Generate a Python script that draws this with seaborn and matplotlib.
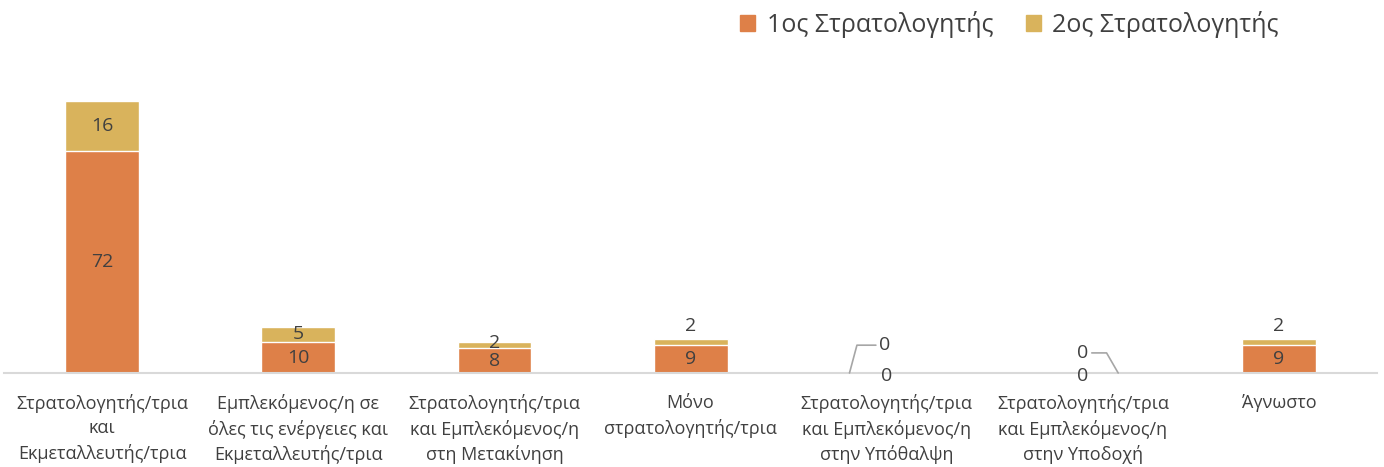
import pandas as pd
import seaborn as sns
import numpy as np
import matplotlib.pyplot as plt
from matplotlib.patches import Patch

categories = [
    'Στρατολογητής/τρια\nκαι\nΕκμεταλλευτής/τρια',
    'Εμπλεκόμενος/η σε\nόλες τις ενέργειες και\nΕκμεταλλευτής/τρια',
    'Στρατολογητής/τρια\nκαι Εμπλεκόμενος/η\nστη Μετακίνηση',
    'Μόνο\nστρατολογητής/τρια',
    'Στρατολογητής/τρια\nκαι Εμπλεκόμενος/η\nστην Υπόθαλψη',
    'Στρατολογητής/τρια\nκαι Εμπλεκόμενος/η\nστην Υποδοχή',
    'Άγνωστο',
]
first = [72, 10, 8, 9, 0, 0, 9]
second = [16, 5, 2, 2, 0, 0, 2]
series_names = ['1ος Στρατολογητής', '2ος Στρατολογητής']

c1 = '#DE8048'
c2 = '#D9B35C'
txt = '#404040'

sns.set_style('white')
plt.rcParams['font.family'] = ['Open Sans', 'DejaVu Sans']

df = pd.DataFrame({'cat': categories, 'first': first, 'second': second})
df['total'] = df['first'] + df['second']

fig = plt.figure(figsize=(13.84, 4.67), dpi=100)
ax = fig.add_axes([0.003, 0.2013, 0.992, 0.6617])

w = 0.377
# stacked look: totals in gold, first series drawn over in orange
sns.barplot(data=df, x='cat', y='total', color=c2, width=w, saturation=1, ax=ax)
sns.barplot(data=df, x='cat', y='first', color=c1, width=w, saturation=1, ax=ax)

ax.set_ylim(0, 100)
ax.set_xlim(-0.5, len(categories) - 0.5)
ax.set_xlabel('')
ax.set_ylabel('')
ax.set_yticks([])
ax.tick_params(axis='x', length=0, pad=15, labelsize=13, labelcolor=txt)
for lab in ax.get_xticklabels():
    lab.set_linespacing(1.45)
for s in ['top', 'left', 'right']:
    ax.spines[s].set_visible(False)
ax.spines['bottom'].set_color('#D9D9D9')
ax.spines['bottom'].set_linewidth(1.5)

fs = 14
for i, (a, b) in enumerate(zip(first, second)):
    if a == 0 and b == 0:
        continue
    ax.text(i, a / 2, str(a), ha='center', va='center', fontsize=fs, color=txt)
    if b >= 5:
        ax.text(i, a + b / 2, str(b), ha='center', va='center', fontsize=fs, color=txt)
    elif a <= 8:
        ax.text(i, a + b / 2 + 0.6, str(b), ha='center', va='center', fontsize=fs, color=txt)
    else:
        ax.text(i, a + b + 1.2, str(b), ha='center', va='bottom', fontsize=fs, color=txt)

# zero-valued categories with leader lines
lead = dict(arrowstyle='-', color='#A6A6A6', lw=1.2, shrinkA=0, shrinkB=0)
for i, (a, b) in enumerate(zip(first, second)):
    if a == 0 and b == 0:
        ax.text(i, -1.0, str(a), ha='center', va='center', fontsize=fs, color=txt)
        if i == 4:
            ax.annotate(str(b), xy=(i - 0.19, 0), xytext=(i - 0.01, 9.0),
                        ha='center', va='center', fontsize=fs, color=txt,
                        arrowprops=dict(lead, connectionstyle='angle,angleA=180,angleB=75'),
                        textcoords='data')
        else:
            ax.annotate(str(b), xy=(i + 0.18, 0), xytext=(i, 6.5),
                        ha='center', va='center', fontsize=fs, color=txt,
                        arrowprops=dict(lead, connectionstyle='angle,angleA=0,angleB=120'),
                        textcoords='data')

handles = [Patch(color=c1), Patch(color=c2)]
fig.legend(handles, series_names, loc='upper right', bbox_to_anchor=(0.94, 1.025), ncol=2,
           frameon=False, fontsize=18, labelcolor=txt, handlelength=0.6, handleheight=0.6,
           handletextpad=0.45, columnspacing=1.3)

plt.savefig('out.png', dpi=100)
